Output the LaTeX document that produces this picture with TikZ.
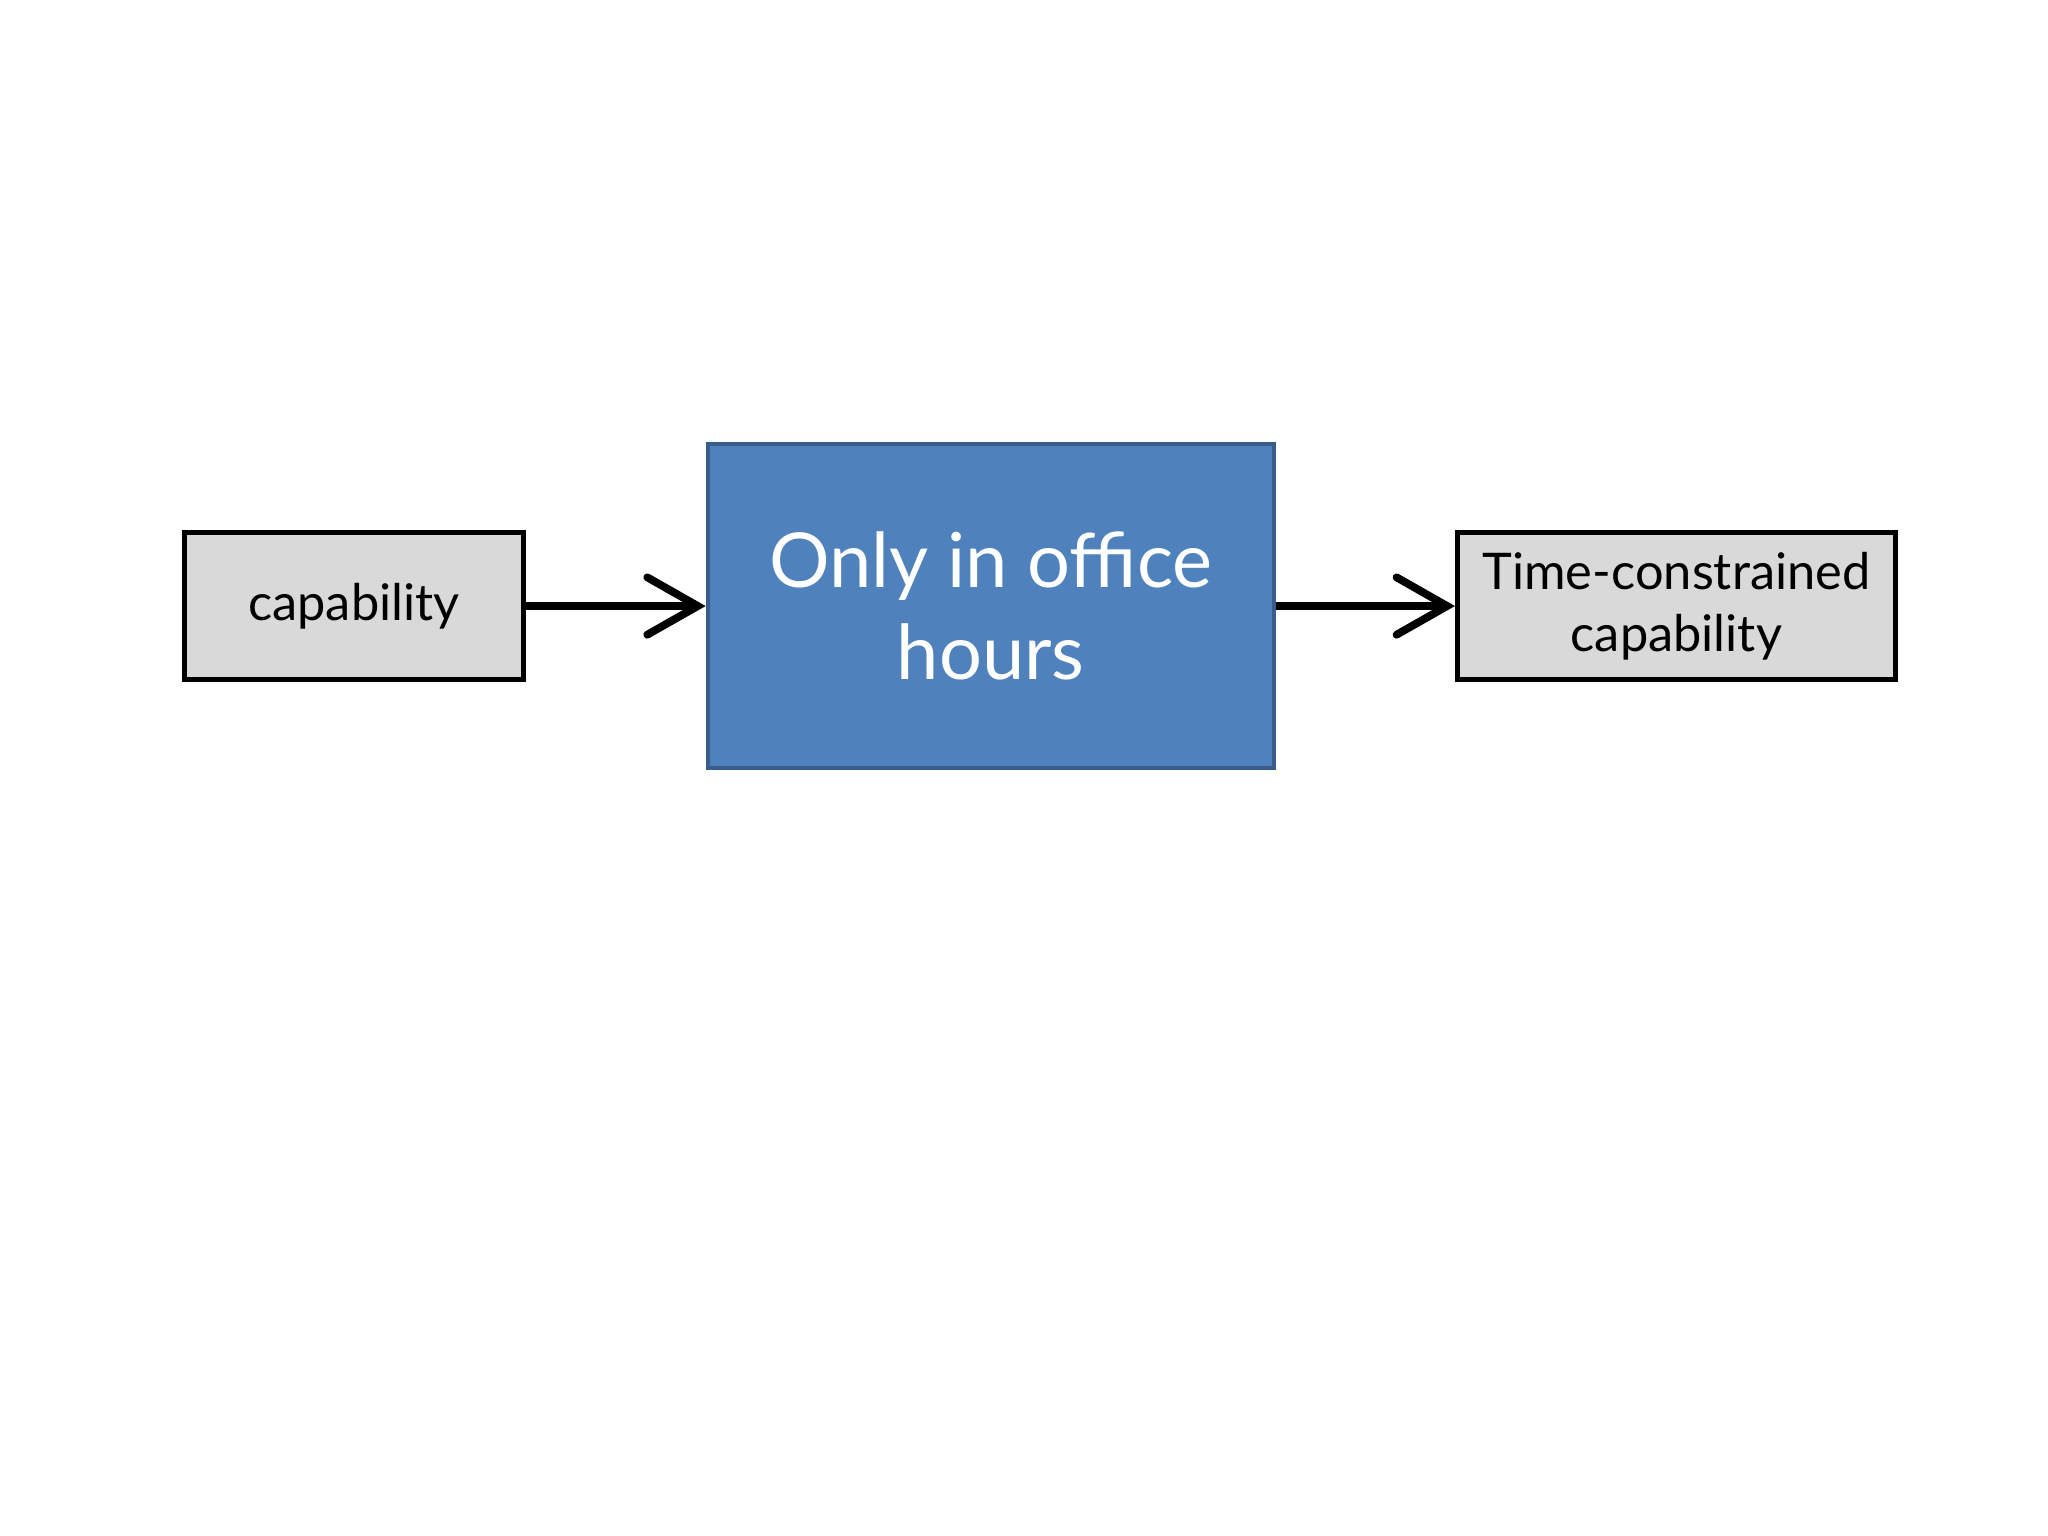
\documentclass[tikz,border=0pt]{standalone}
\usepackage{fontspec}
\setmainfont{Lato}
\usetikzlibrary{arrows.meta}
\definecolor{blfill}{HTML}{4F81BD}
\definecolor{bldraw}{HTML}{385D8A}
\definecolor{gfill}{HTML}{D9D9D9}
\tikzset{
 graybox/.style={draw=black,fill=gfill,line width=1.1pt,inner sep=0pt,align=center,font=\fontsize{11pt}{13.6pt}\selectfont},
 bluebox/.style={draw=bldraw,fill=blfill,line width=0.9pt,inner sep=0pt,align=center,text=white,font=\fontsize{16.5pt}{20pt}\selectfont},
 conn/.style={line width=1.7pt,-{Straight Barb[length=11pt,width=12.5pt,line cap=round]}}
}
\begin{document}
\begin{tikzpicture}[x=0.01cm,y=-0.01cm]
\useasboundingbox (0,0) rectangle (1568,1176);
\node[graybox,minimum width=2.6cm,minimum height=1.12cm] (a) at (271,464) {capability};
\node[bluebox,minimum width=4.33cm,minimum height=2.48cm] (b) at (758.5,464) {Only in office\\hours};
\node[graybox,minimum width=3.35cm,minimum height=1.12cm] (c) at (1283.5,464) {Time-constrained\\capability};
\draw[conn] (a.east) -- (b.west);
\draw[conn] (b.east) -- (c.west);
\end{tikzpicture}
\end{document}
